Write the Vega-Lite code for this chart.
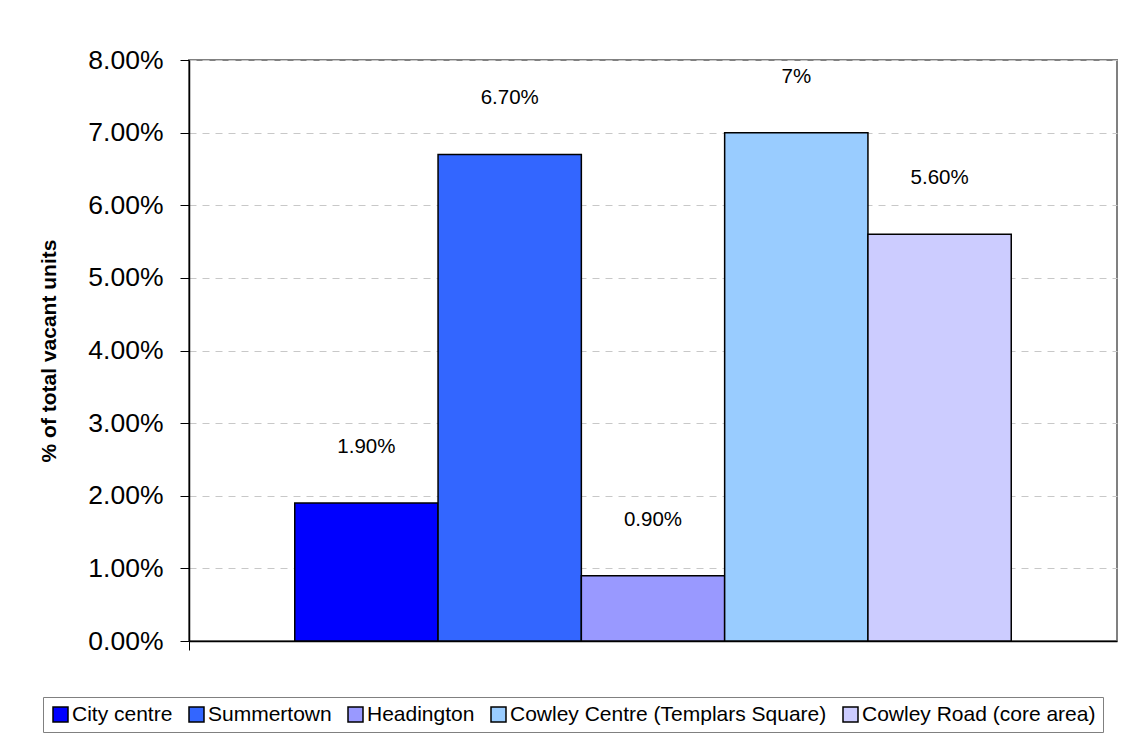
{
  "$schema": "https://vega.github.io/schema/vega-lite/v6.json",
  "width": 928,
  "height": 581,
  "autosize": {"type": "none"},
  "padding": {"left": 189, "top": 60, "right": 7, "bottom": 92},
  "background": "white",
  "config": {
    "font": "Liberation Sans",
    "view": {"stroke": "#808080", "strokeWidth": 2},
    "axis": {"labelColor": "black", "titleColor": "black"}
  },
  "data": {
    "values": [
      {"group": "Vacancy", "area": "City centre", "value": 0.019, "label": "1.90%"},
      {"group": "Vacancy", "area": "Summertown", "value": 0.067, "label": "6.70%"},
      {"group": "Vacancy", "area": "Headington", "value": 0.009, "label": "0.90%"},
      {"group": "Vacancy", "area": "Cowley Centre (Templars Square)", "value": 0.07, "label": "7%"},
      {"group": "Vacancy", "area": "Cowley Road (core area)", "value": 0.056, "label": "5.60%"}
    ]
  },
  "encoding": {
    "x": {
      "field": "group",
      "type": "nominal",
      "scale": {"paddingInner": 0, "paddingOuter": 0},
      "axis": {
        "labels": false,
        "title": null,
        "bandPosition": 0,
        "tickSize": 9,
        "tickColor": "black",
        "domainColor": "black",
        "domainWidth": 1.5,
        "grid": false
      }
    },
    "xOffset": {
      "field": "area",
      "type": "nominal",
      "sort": ["City centre", "Summertown", "Headington", "Cowley Centre (Templars Square)", "Cowley Road (core area)"],
      "scale": {"paddingInner": 0, "paddingOuter": 0.738}
    },
    "y": {
      "field": "value",
      "type": "quantitative",
      "scale": {"domain": [0, 0.08], "nice": false, "zero": true},
      "axis": {
        "values": [0, 0.01, 0.02, 0.03, 0.04, 0.05, 0.06, 0.07, 0.08],
        "format": ".2%",
        "labelFontSize": 26.5,
        "labelPadding": 17,
        "tickSize": 9,
        "tickColor": "black",
        "domainColor": "black",
        "domainWidth": 1.5,
        "grid": true,
        "gridColor": "#c8c8c8",
        "gridDash": [7, 6],
        "gridWidth": 1,
        "title": "% of total vacant units",
        "titleFontSize": 21,
        "titleFontWeight": "bold",
        "titleAngle": -90,
        "titleAlign": "center",
        "titleBaseline": "alphabetic",
        "titleX": -134,
        "titleY": 290.5
      }
    }
  },
  "layer": [
    {
      "mark": {"type": "bar", "stroke": "black", "strokeWidth": 1.5, "opacity": 1},
      "encoding": {
        "color": {
          "field": "area",
          "type": "nominal",
          "scale": {
            "domain": ["City centre", "Summertown", "Headington", "Cowley Centre (Templars Square)", "Cowley Road (core area)"],
            "range": ["#0000FF", "#3366FF", "#9999FF", "#99CCFF", "#CCCCFF"]
          },
          "legend": {
            "title": null,
            "orient": "none",
            "direction": "horizontal",
            "columns": 5,
            "legendX": -146,
            "legendY": 637,
            "symbolType": "square",
            "symbolSize": 225,
            "symbolStrokeColor": "black",
            "symbolStrokeWidth": 1.5,
            "symbolOpacity": 1,
            "labelFontSize": 21,
            "labelColor": "black",
            "labelOffset": 1,
            "labelLimit": 500,
            "columnPadding": 13,
            "padding": 7,
            "strokeColor": "#808080",
            "fillColor": "white"
          }
        }
      }
    },
    {
      "mark": {"type": "text", "dy": -50, "baseline": "alphabetic", "fontSize": 20.5, "color": "black"},
      "encoding": {"text": {"field": "label", "type": "nominal"}}
    }
  ]
}
